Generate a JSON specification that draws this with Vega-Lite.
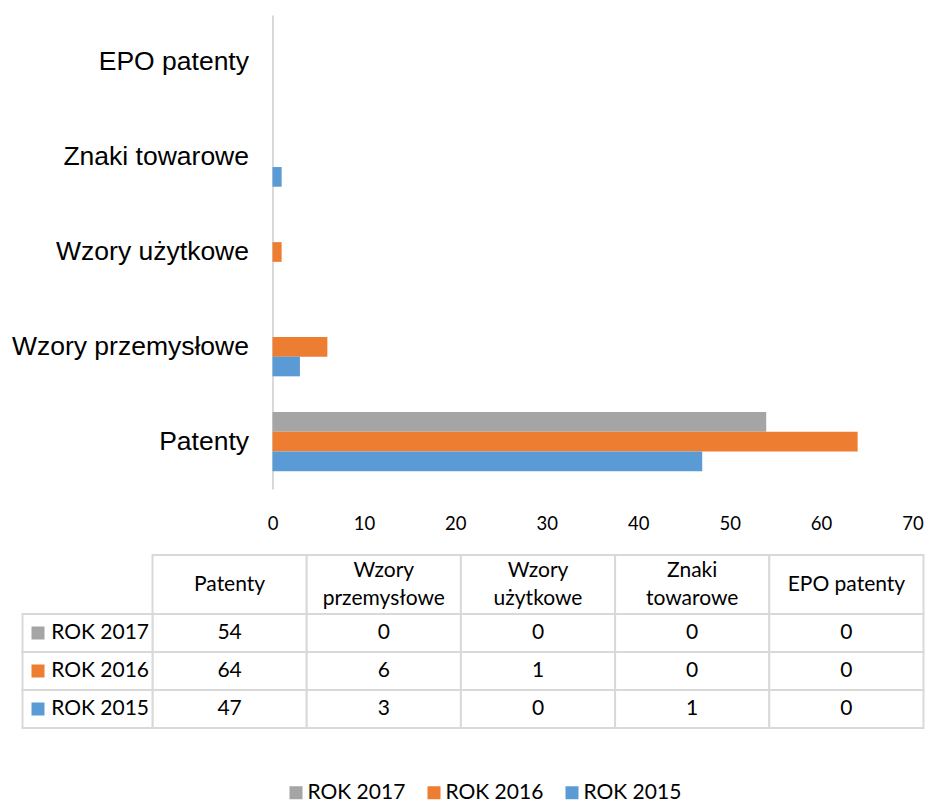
{
  "$schema": "https://vega.github.io/schema/vega-lite/v6.json",
  "background": "white",
  "padding": {"left": 10.5, "top": 15, "right": 0, "bottom": 0},
  "datasets": {
    "dane": [
      {"kategoria": "Patenty", "rok": "ROK 2017", "liczba": 54},
      {"kategoria": "Patenty", "rok": "ROK 2016", "liczba": 64},
      {"kategoria": "Patenty", "rok": "ROK 2015", "liczba": 47},
      {"kategoria": "Wzory przemysłowe", "rok": "ROK 2017", "liczba": 0},
      {"kategoria": "Wzory przemysłowe", "rok": "ROK 2016", "liczba": 6},
      {"kategoria": "Wzory przemysłowe", "rok": "ROK 2015", "liczba": 3},
      {"kategoria": "Wzory użytkowe", "rok": "ROK 2017", "liczba": 0},
      {"kategoria": "Wzory użytkowe", "rok": "ROK 2016", "liczba": 1},
      {"kategoria": "Wzory użytkowe", "rok": "ROK 2015", "liczba": 0},
      {"kategoria": "Znaki towarowe", "rok": "ROK 2017", "liczba": 0},
      {"kategoria": "Znaki towarowe", "rok": "ROK 2016", "liczba": 0},
      {"kategoria": "Znaki towarowe", "rok": "ROK 2015", "liczba": 1},
      {"kategoria": "EPO patenty", "rok": "ROK 2017", "liczba": 0},
      {"kategoria": "EPO patenty", "rok": "ROK 2016", "liczba": 0},
      {"kategoria": "EPO patenty", "rok": "ROK 2015", "liczba": 0}
    ],
    "kolumny": [
      {"kategoria": "Patenty", "naglowek": "Patenty"},
      {"kategoria": "Wzory przemysłowe", "naglowek": "Wzory\nprzemysłowe"},
      {"kategoria": "Wzory użytkowe", "naglowek": "Wzory\nużytkowe"},
      {"kategoria": "Znaki towarowe", "naglowek": "Znaki\ntowarowe"},
      {"kategoria": "EPO patenty", "naglowek": "EPO patenty"}
    ],
    "lata": [
      {"rok": "ROK 2017"},
      {"rok": "ROK 2016"},
      {"rok": "ROK 2015"}
    ]
  },
  "spacing": 21,
  "vconcat": [
    {
      "width": 640,
      "height": 474,
      "data": {"name": "dane"},
      "mark": {"type": "bar"},
      "encoding": {
        "y": {
          "field": "kategoria", "type": "nominal",
          "sort": ["EPO patenty", "Znaki towarowe", "Wzory użytkowe", "Wzory przemysłowe", "Patenty"],
          "scale": {"paddingInner": 0.377, "paddingOuter": 0.1885},
          "axis": {"title": null, "labelFont": "Liberation Sans", "labelFontSize": 26.5, "labelColor": "#000000", "labelPadding": 24, "ticks": false, "tickSize": 0, "domainColor": "#D9D9D9", "domainWidth": 2, "labelLimit": 400}
        },
        "x": {
          "field": "liczba", "type": "quantitative",
          "scale": {"domain": [0, 70], "nice": false},
          "axis": {"title": null, "values": [0, 10, 20, 30, 40, 50, 60, 70], "domain": false, "ticks": false, "tickSize": 0, "grid": false, "labelFont": "Lato", "labelFontSize": 18.5, "labelPadding": 25, "labelColor": "#000000", "labelFlush": false}
        },
        "yOffset": {
          "field": "rok", "type": "nominal",
          "sort": ["ROK 2017", "ROK 2016", "ROK 2015"],
          "scale": {"paddingInner": 0, "paddingOuter": 0}
        },
        "color": {
          "field": "rok", "type": "nominal",
          "scale": {"domain": ["ROK 2017", "ROK 2016", "ROK 2015"], "range": ["#A5A5A5", "#ED7D31", "#5B9BD5"]},
          "legend": {"title": null, "orient": "none", "legendX": 13, "legendY": 767, "direction": "horizontal", "symbolType": "square", "symbolSize": 169, "symbolStrokeWidth": 0, "labelFont": "Lato", "labelFontSize": 21, "labelColor": "#000000", "labelOffset": 1, "columnPadding": 18, "padding": 0, "labelLimit": 300}
        }
      }
    },
    {
      "width": 651,
      "height": 114,
      "resolve": {"scale": {"x": "independent", "y": "independent"}},
      "layer": [
        {
          "data": {"name": "kolumny"},
          "mark": {"type": "rect", "fill": "white", "stroke": "#D9D9D9", "strokeWidth": 2},
          "encoding": {
            "x": {"field": "kategoria", "type": "nominal", "scale": {"domain": ["Patenty", "Wzory przemysłowe", "Wzory użytkowe", "Znaki towarowe", "EPO patenty"], "range": [-120, 651], "paddingInner": 0, "paddingOuter": 0}, "axis": null},
            "y": {"datum": "naglowek", "type": "nominal", "scale": {"range": [-59, 0], "paddingInner": 0, "paddingOuter": 0}, "axis": null}
          }
        },
        {
          "data": {"name": "kolumny"},
          "transform": [{"filter": "indexof(datum.naglowek, '\\n') < 0"}],
          "mark": {"type": "text", "font": "Lato", "fontSize": 21, "color": "#000000", "align": "center", "baseline": "middle"},
          "encoding": {
            "x": {"field": "kategoria", "type": "nominal", "scale": {"domain": ["Patenty", "Wzory przemysłowe", "Wzory użytkowe", "Znaki towarowe", "EPO patenty"], "range": [-120, 651], "paddingInner": 0, "paddingOuter": 0}, "axis": null},
            "y": {"datum": "naglowek", "type": "nominal", "scale": {"range": [-59, 0], "paddingInner": 0, "paddingOuter": 0}, "axis": null},
            "text": {"field": "naglowek", "type": "nominal"}
          }
        },
        {
          "data": {"name": "kolumny"},
          "transform": [{"filter": "indexof(datum.naglowek, '\\n') >= 0"}],
          "mark": {"type": "text", "font": "Lato", "fontSize": 21, "color": "#000000", "lineBreak": "\n", "lineHeight": 28, "align": "center", "baseline": "middle", "dy": -14},
          "encoding": {
            "x": {"field": "kategoria", "type": "nominal", "scale": {"domain": ["Patenty", "Wzory przemysłowe", "Wzory użytkowe", "Znaki towarowe", "EPO patenty"], "range": [-120, 651], "paddingInner": 0, "paddingOuter": 0}, "axis": null},
            "y": {"datum": "naglowek", "type": "nominal", "scale": {"range": [-59, 0], "paddingInner": 0, "paddingOuter": 0}, "axis": null},
            "text": {"field": "naglowek", "type": "nominal"}
          }
        },
        {
          "data": {"name": "dane"},
          "mark": {"type": "rect", "fill": "white", "stroke": "#D9D9D9", "strokeWidth": 2},
          "encoding": {
            "x": {"field": "kategoria", "type": "nominal", "scale": {"domain": ["Patenty", "Wzory przemysłowe", "Wzory użytkowe", "Znaki towarowe", "EPO patenty"], "range": [-120, 651], "paddingInner": 0, "paddingOuter": 0}, "axis": null},
            "y": {"field": "rok", "type": "nominal", "scale": {"domain": ["ROK 2017", "ROK 2016", "ROK 2015"], "range": [0, 114], "paddingInner": 0, "paddingOuter": 0}, "axis": null}
          }
        },
        {
          "data": {"name": "dane"},
          "mark": {"type": "text", "font": "Lato", "fontSize": 21, "color": "#000000", "align": "center", "baseline": "middle"},
          "encoding": {
            "x": {"field": "kategoria", "type": "nominal", "scale": {"domain": ["Patenty", "Wzory przemysłowe", "Wzory użytkowe", "Znaki towarowe", "EPO patenty"], "range": [-120, 651], "paddingInner": 0, "paddingOuter": 0}, "axis": null},
            "y": {"field": "rok", "type": "nominal", "scale": {"domain": ["ROK 2017", "ROK 2016", "ROK 2015"], "range": [0, 114], "paddingInner": 0, "paddingOuter": 0}, "axis": null},
            "text": {"field": "liczba", "type": "quantitative"}
          }
        },
        {
          "data": {"name": "lata"},
          "mark": {"type": "rect", "fill": "white", "stroke": "#D9D9D9", "strokeWidth": 2},
          "encoding": {
            "x": {"datum": "seria", "type": "nominal", "scale": {"range": [-250, -120], "paddingInner": 0, "paddingOuter": 0}, "axis": null},
            "y": {"field": "rok", "type": "nominal", "scale": {"domain": ["ROK 2017", "ROK 2016", "ROK 2015"], "range": [0, 114], "paddingInner": 0, "paddingOuter": 0}, "axis": null}
          }
        },
        {
          "data": {"name": "lata"},
          "mark": {"type": "square", "size": 169, "filled": true, "opacity": 1, "xOffset": -49.5},
          "encoding": {
            "x": {"datum": "seria", "type": "nominal", "scale": {"range": [-250, -120], "paddingInner": 0, "paddingOuter": 0}, "axis": null},
            "y": {"field": "rok", "type": "nominal", "scale": {"domain": ["ROK 2017", "ROK 2016", "ROK 2015"], "range": [0, 114], "paddingInner": 0, "paddingOuter": 0}, "axis": null},
            "color": {"field": "rok", "type": "nominal"}
          }
        },
        {
          "data": {"name": "lata"},
          "mark": {"type": "text", "font": "Lato", "fontSize": 21, "color": "#000000", "align": "left", "baseline": "middle", "xOffset": -36.3},
          "encoding": {
            "x": {"datum": "seria", "type": "nominal", "scale": {"range": [-250, -120], "paddingInner": 0, "paddingOuter": 0}, "axis": null},
            "y": {"field": "rok", "type": "nominal", "scale": {"domain": ["ROK 2017", "ROK 2016", "ROK 2015"], "range": [0, 114], "paddingInner": 0, "paddingOuter": 0}, "axis": null},
            "text": {"field": "rok", "type": "nominal"}
          }
        }
      ]
    }
  ],
  "config": {"view": {"stroke": null}}
}
